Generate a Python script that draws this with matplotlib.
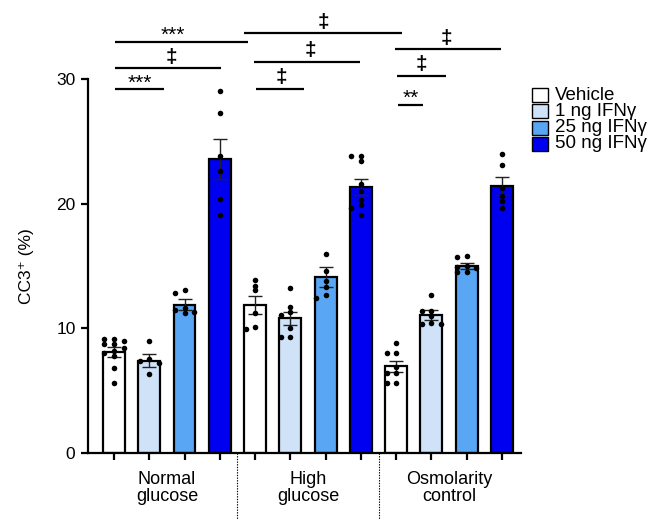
import numpy as np
import matplotlib
matplotlib.use("Agg")
import matplotlib.pyplot as plt
from matplotlib.patches import Rectangle

plt.rcParams['font.family'] = ['Liberation Sans', 'DejaVu Sans']

groups = ["Normal\nglucose", "High\nglucose", "Osmolarity\ncontrol"]
treatments = ["Vehicle", "1 ng IFNγ", "25 ng IFNγ", "50 ng IFNγ"]
colors = ["#ffffff", "#cfe2f8", "#58a6f4", "#0000f0"]

means = [
    [8.1, 7.4, 11.9, 23.6],
    [11.9, 10.8, 14.1, 21.35],
    [6.95, 11.05, 15.0, 21.45],
]
sems = [
    [0.4, 0.5, 0.45, 1.6],
    [0.72, 0.53, 0.8, 0.67],
    [0.43, 0.38, 0.27, 0.72],
]
points = [
    [[9.1, 9.1, 9.0, 8.7, 8.7, 8.4, 8.2, 8.0, 7.8, 6.8, 5.6],
     [9.0, 7.5, 7.4, 7.2, 6.3],
     [13.1, 12.8, 11.6, 11.45, 11.3, 11.25],
     [29.1, 27.3, 23.8, 22.65, 20.35, 19.1]],
    [[13.9, 13.4, 13.07, 11.25, 10.1, 9.9],
     [13.2, 11.7, 11.3, 11.1, 10.05, 9.3, 9.3],
     [15.95, 14.6, 13.8, 13.3, 12.65, 12.4],
     [23.8, 23.8, 23.4, 21.6, 21.0, 20.3, 19.9, 19.7, 19.1]],
    [[8.8, 8.0, 8.0, 6.9, 6.4, 6.4, 5.6, 5.6],
     [12.7, 11.4, 11.4, 11.0, 10.4, 10.3, 10.3],
     [15.8, 15.7, 15.0, 14.9, 14.8, 14.5, 14.5],
     [24.0, 23.1, 21.3, 20.6, 20.2, 19.7]],
]
# significance brackets: (x_start, x_end, y, label, label_x)
brackets = [
    (0.03, 1.42, 29.2, "***", 0.74),
    (0.03, 3.03, 30.87, "‡", 1.64),
    (0.03, 3.79, 33.0, "***", 1.67),
    (4.02, 5.40, 29.2, "‡", 4.75),
    (3.97, 6.98, 31.4, "‡", 5.56),
    (3.68, 8.16, 33.68, "‡", 5.95),
    (8.05, 8.76, 27.94, "**", 8.40),
    (8.02, 9.40, 30.26, "‡", 8.73),
    (7.97, 10.96, 32.4, "‡", 9.44),
]

fig = plt.figure(figsize=(6.49, 5.2), dpi=100)
ax = fig.add_axes([88/649, 1-452.7/520, (521-88)/649, (452.7-79.3)/520])

ngroups = len(groups)
nt = len(treatments)
width = 0.62
step = 0.27
for g in range(ngroups):
    for t in range(nt):
        x = g*nt + t
        ax.bar(x, means[g][t], width=width, color=colors[t], edgecolor='black',
               linewidth=1.6, zorder=2)
        ax.errorbar(x, means[g][t], yerr=sems[g][t], color='#222222', elinewidth=1.0,
                    capsize=5, capthick=1.0, zorder=3, fmt='none')
        # simple swarm placement
        placed = []
        vals = sorted(points[g][t], reverse=True)
        for v in vals:
            for off in [0, -step, step, -step/2, step/2]:
                ok = True
                for (px, py) in placed:
                    if abs(py - v) < 0.3 and abs(px - off) < step*0.45:
                        ok = False
                        break
                if ok:
                    break
            placed.append((off, v))
        xs = [x + p[0] for p in placed]
        ys = [p[1] for p in placed]
        ax.scatter(xs, ys, s=16, color='black', zorder=4, clip_on=False, linewidths=0)

ax.set_xlim(-0.737, 11.54)
ax.set_ylim(0, 30)
ax.set_yticks([0, 10, 20, 30])
ax.set_xticks(range(ngroups*nt))
ax.set_xticklabels([])
for s in ['top', 'right']:
    ax.spines[s].set_visible(False)
for s in ['left', 'bottom']:
    ax.spines[s].set_linewidth(1.6)
ax.tick_params(axis='both', length=5, width=1.6, labelsize=12.5, pad=4)
ax.set_ylabel("CC3⁺ (%)", fontsize=12.5, labelpad=16)

for g in range(ngroups):
    ax.text(g*nt + 1.5, -1.45, groups[g], ha='center', va='top', fontsize=13,
            linespacing=1.05)
for xsep in [3.5, 7.5]:
    ax.plot([xsep, xsep], [0, -5.5], ls=(0, (1.2, 1.2)), color='black', lw=0.8,
            clip_on=False)

for (x0, x1, y, lab, lx) in brackets:
    ax.plot([x0, x1], [y, y], color='black', lw=1.6, clip_on=False, solid_capstyle='butt')
    if lab.startswith('*'):
        ax.text(lx, y - 0.25, lab, ha='center', va='bottom', fontsize=15)
    else:
        ax.text(lx, y + 0.15, lab, ha='center', va='bottom', fontsize=15, fontweight='bold')

# legend
for i, (lab, c) in enumerate(zip(treatments, colors)):
    yc = 95 + i*16.3
    fig.patches.append(Rectangle((532/649, 1-(yc+7)/520), 16/649, 14/520,
                                 transform=fig.transFigure, facecolor=c,
                                 edgecolor='black', linewidth=1.0))
    fig.text(555/649, 1-yc/520, lab, ha='left', va='center', fontsize=13.5)

fig.savefig("out.png", dpi=100)
